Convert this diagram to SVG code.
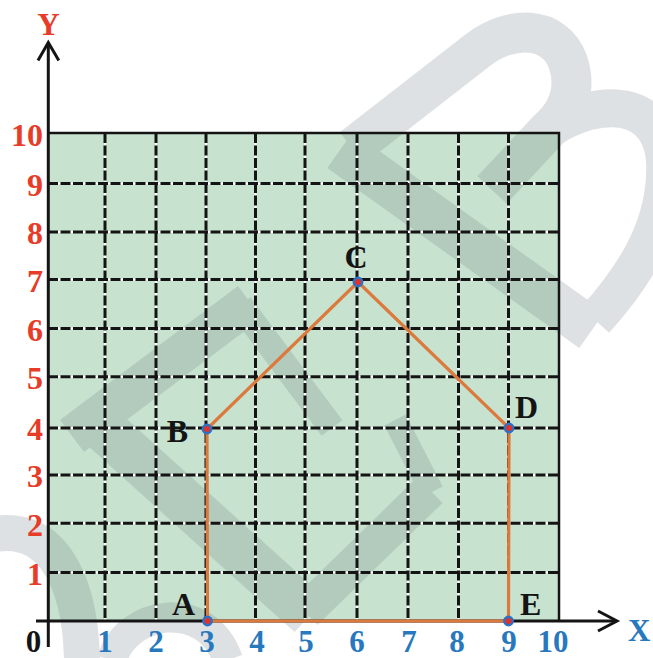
<svg xmlns="http://www.w3.org/2000/svg" width="653" height="658" viewBox="0 0 653 658">
<style>
  .gu{stroke:#ffffff;stroke-width:2;fill:none}
  .gd{stroke:#141414;stroke-width:3;stroke-dasharray:10 2.5;fill:none}
  .axis{stroke:#141414;stroke-width:3;fill:none}
  .border{stroke:#141414;stroke-width:2.5;fill:none}
  .wm{fill:none;stroke:#6f7b82;stroke-linejoin:round}
  .num{font-family:"Liberation Serif","Times New Roman",serif;font-weight:bold;font-size:31px}
  .ylab{fill:#e63c28;text-anchor:end;font-size:32px}
  .xlab{fill:#2878be;text-anchor:middle}
  .plab{font-family:"Liberation Serif","Times New Roman",serif;font-weight:bold;font-size:32px;fill:#141414}
  .pt{fill:#e0322a;stroke:#2f6fc4;stroke-width:2.5}
  .edge{stroke:#dc7a3e;stroke-width:3.2;stroke-linecap:round;fill:none}
</style>
<rect x="0" y="0" width="653" height="658" fill="#ffffff"/>
<rect id="plane" x="48" y="133" width="511" height="488" fill="#c7e3cf"/>

<!-- watermark -->
<g id="watermark" opacity="0.22">
  <path class="wm" stroke-width="44" d="M340,150 L592,330"/>
  <path class="wm" stroke-width="40" d="M352,148 L478,50 C510,25 555,25 568,62 C578,92 565,115 548,130 L492,190"/>
  <path class="wm" stroke-width="38" d="M548,130 C600,95 660,100 665,160 C668,220 640,270 595,320"/>
  <path class="wm" stroke-width="46" d="M88,415 L310,615"/>
  <path class="wm" stroke-width="40" d="M72,436 L250,302"/>
  <path class="wm" stroke-width="26" d="M240,305 L332,428"/>
  <path class="wm" stroke-width="36" d="M305,612 L430,490"/>
  <path class="wm" stroke-width="24" d="M432,492 L395,420"/>
  <path class="wm" stroke-width="36" d="M-10,535 C45,522 80,570 82,660"/>
  <path class="wm" stroke-width="30" d="M112,660 C125,612 205,595 228,660"/>
</g>

<!-- grid -->
<g id="grid">
  <path class="gu" d="M48,183.5H559M48,232H559M48,279.5H559M48,328.5H559M48,376.7H559M48,428H559M48,475H559M48,523.3H559M48,572.5H559"/>
  <path class="gu" d="M105,133V621M156,133V621M206,133V621M255.5,133V621M305,133V621M357,133V621M408,133V621M458.5,133V621M508.5,133V621"/>
  <path class="gd" d="M48,183.5H559M48,232H559M48,279.5H559M48,328.5H559M48,376.7H559M48,428H559M48,475H559M48,523.3H559M48,572.5H559"/>
  <path class="gd" d="M105,133V621M156,133V621M206,133V621M255.5,133V621M305,133V621M357,133V621M408,133V621M458.5,133V621M508.5,133V621"/>
  <path class="border" d="M48,133H559V621"/>
</g>

<!-- axes -->
<g id="axes">
  <path class="axis" d="M48.3,647V43"/>
  <path class="axis" d="M38,60.5L48.3,42.5L58.8,60.5"/>
  <path class="axis" d="M36,621H616"/>
  <path class="axis" d="M598,611L617,621L598,631"/>
  <text class="num" x="48.5" y="35" text-anchor="middle" fill="#e63c28" font-size="35">Y</text>
  <text class="num" x="628" y="641" fill="#2878be" font-size="31">X</text>
  <text class="num" x="33.5" y="652" text-anchor="middle" fill="#141414">0</text>
</g>

<!-- y tick labels -->
<g id="y-labels" class="num ylab">
  <text x="43" y="145.5">10</text>
  <text x="43" y="195.5">9</text>
  <text x="43" y="244">8</text>
  <text x="43" y="291.5">7</text>
  <text x="43" y="340.5">6</text>
  <text x="43" y="388.5">5</text>
  <text x="43" y="440">4</text>
  <text x="43" y="487">3</text>
  <text x="43" y="535.5">2</text>
  <text x="43" y="584.5">1</text>
</g>

<!-- x tick labels -->
<g id="x-labels" class="num xlab">
  <text x="105" y="652">1</text>
  <text x="156" y="652">2</text>
  <text x="207" y="652">3</text>
  <text x="257" y="652">4</text>
  <text x="306" y="652">5</text>
  <text x="357" y="652">6</text>
  <text x="409" y="652">7</text>
  <text x="457" y="652">8</text>
  <text x="509" y="652">9</text>
  <text x="553" y="652">10</text>
</g>

<!-- connectors -->
<g id="connectors">
  <line id="AB" class="edge" x1="207.5" y1="621" x2="207" y2="429"/>
  <line id="BC" class="edge" x1="207" y1="429" x2="358" y2="282"/>
  <line id="CD" class="edge" x1="358" y1="282" x2="509" y2="428"/>
  <line id="DE" class="edge" x1="509" y1="428" x2="508.5" y2="621"/>
  <line id="EA" class="edge" x1="508.5" y1="621" x2="207.5" y2="621"/>
</g>

<!-- nodes -->
<g id="node-A">
  <circle class="pt" cx="207.5" cy="621" r="4.2"/>
  <text class="plab" x="195" y="615" text-anchor="end">A</text>
</g>
<g id="node-B">
  <circle class="pt" cx="207" cy="429" r="4.2"/>
  <text class="plab" x="188" y="442" text-anchor="end">B</text>
</g>
<g id="node-C">
  <circle class="pt" cx="358" cy="282" r="4.2"/>
  <text class="plab" x="356" y="268" text-anchor="middle">C</text>
</g>
<g id="node-D">
  <circle class="pt" cx="509" cy="428" r="4.2"/>
  <text class="plab" x="515" y="418">D</text>
</g>
<g id="node-E">
  <circle class="pt" cx="508.5" cy="621" r="4.2"/>
  <text class="plab" x="520" y="615">E</text>
</g>
</svg>
